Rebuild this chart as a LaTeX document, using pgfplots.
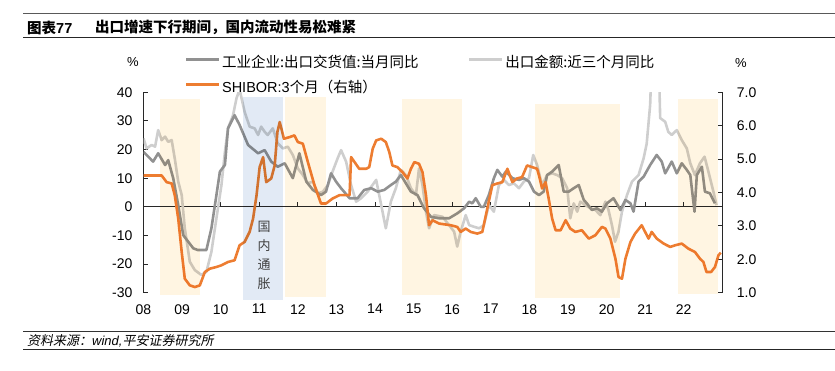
\documentclass[border=0pt]{standalone}
\usepackage{fontspec}
\setmainfont{Liberation Sans}
\newfontfamily\cjk{Noto Sans CJK SC}
\newfontfamily\cjkit{Noto Sans CJK SC}[FakeSlant=0.2]
\usepackage{pgfplots}
\usepackage{pgfplotstable}
\pgfplotsset{compat=1.18}
\definecolor{dgray}{RGB}{145,145,145}
\definecolor{lgray}{RGB}{206,206,206}
\definecolor{orng}{RGB}{237,125,49}
\definecolor{ybg}{RGB}{255,245,226}
\definecolor{bbg}{RGB}{226,234,245}
\definecolor{axc}{RGB}{40,40,40}

\pgfplotstableread{
x y
2008.00 19.2
2008.25 15.8
2008.38 18.7
2008.56 14.6
2008.64 16.3
2008.77 10.0
2008.90 0.6
2009.03 -9.9
2009.16 -12.2
2009.29 -14.5
2009.41 -15.1
2009.63 -15.1
2009.76 -7.5
2009.89 4.1
2009.98 12.3
2010.11 14.6
2010.19 27.4
2010.36 32.0
2010.49 28.6
2010.71 21.6
2010.97 18.7
2011.14 19.8
2011.31 15.8
2011.48 14.0
2011.66 15.2
2011.87 10.0
2012.04 18.7
2012.22 8.8
2012.39 5.9
2012.60 4.1
2012.73 5.3
2012.86 11.7
2012.99 8.8
2013.12 6.5
2013.34 3.0
2013.55 3.0
2013.72 5.9
2013.90 6.5
2014.07 5.3
2014.24 5.9
2014.41 7.6
2014.54 8.8
2014.67 11.1
2014.80 8.2
2014.93 5.3
2015.10 4.1
2015.27 -0.5
2015.45 -3.5
2015.66 -4.0
2015.92 -4.0
2016.13 -2.3
2016.31 -0.5
2016.44 1.8
2016.52 1.2
2016.61 3.0
2016.74 0.0
2016.82 0.0
2016.95 4.1
2017.08 10.0
2017.17 12.9
2017.30 10.5
2017.39 12.3
2017.56 10.0
2017.73 9.4
2017.86 10.0
2017.99 8.8
2018.12 5.3
2018.25 4.1
2018.37 5.3
2018.46 11.1
2018.59 12.3
2018.76 14.6
2018.89 5.3
2019.02 5.3
2019.15 6.5
2019.28 7.6
2019.41 2.4
2019.49 1.2
2019.62 -1.1
2019.75 -0.5
2019.88 -1.7
2020.01 1.2
2020.18 3.0
2020.36 -1.1
2020.49 2.4
2020.62 1.2
2020.70 -1.7
2020.83 8.8
2020.96 10.5
2021.13 14.6
2021.30 18.1
2021.43 15.8
2021.52 11.7
2021.69 15.8
2021.82 11.7
2021.95 15.2
2022.08 12.9
2022.17 11.1
2022.28 -1.7
2022.34 11.1
2022.47 14.0
2022.55 5.3
2022.68 4.7
2022.81 1.2
}\tabA

\pgfplotstableread{
x y
2008.00 23.9
2008.08 20.4
2008.21 21.6
2008.30 21.0
2008.38 26.8
2008.47 23.3
2008.56 24.5
2008.64 22.7
2008.73 23.3
2008.81 16.9
2008.90 8.8
2008.99 4.1
2009.07 -7.5
2009.20 -19.2
2009.33 -22.1
2009.50 -23.8
2009.63 -22.7
2009.76 -15.7
2009.89 -4.0
2010.02 7.6
2010.11 19.2
2010.19 27.4
2010.32 32.0
2010.41 37.9
2010.49 41.0
2010.62 33.2
2010.75 28.0
2010.88 27.4
2010.97 25.1
2011.05 28.0
2011.14 26.2
2011.22 25.1
2011.35 27.4
2011.48 22.2
2011.61 20.4
2011.74 21.0
2011.87 18.1
2012.00 13.4
2012.13 11.1
2012.26 8.2
2012.39 8.8
2012.52 4.7
2012.65 5.3
2012.78 7.6
2012.90 12.3
2013.03 16.9
2013.12 19.8
2013.25 15.8
2013.38 7.6
2013.51 1.8
2013.64 3.0
2013.81 5.3
2014.03 9.4
2014.16 0.6
2014.28 -7.5
2014.41 1.8
2014.54 6.5
2014.67 12.9
2014.80 11.1
2014.93 6.5
2015.06 4.1
2015.14 13.4
2015.23 7.6
2015.32 -1.7
2015.40 -7.5
2015.53 -2.9
2015.75 -3.5
2015.92 -6.4
2016.05 -8.7
2016.13 -13.9
2016.22 -8.7
2016.35 -2.9
2016.44 -6.4
2016.57 -7.0
2016.70 -7.5
2016.82 -6.4
2016.95 0.6
2017.08 -1.7
2017.21 7.6
2017.34 9.4
2017.47 7.6
2017.60 8.2
2017.73 6.5
2017.86 8.8
2017.99 10.0
2018.10 18.1
2018.20 14.6
2018.33 7.6
2018.46 11.1
2018.59 11.7
2018.72 11.1
2018.85 10.0
2018.98 6.5
2019.06 -4.0
2019.15 1.2
2019.24 -1.7
2019.32 1.8
2019.45 0.6
2019.58 -0.5
2019.71 -1.1
2019.84 -2.9
2019.97 1.8
2020.05 -1.1
2020.14 -6.4
2020.22 -12.2
2020.31 -8.7
2020.40 -1.7
2020.53 4.1
2020.66 8.8
2020.83 11.1
2020.96 16.9
2021.04 22.0
2021.13 35.6
2021.22 70.0
2021.32 70.0
2021.39 31.0
2021.52 29.7
2021.60 26.2
2021.69 25.1
2021.82 26.8
2021.95 23.3
2022.08 20.4
2022.17 15.2
2022.29 11.1
2022.42 15.2
2022.54 17.5
2022.64 12.3
2022.77 5.3
2022.85 0.6
}\tabB

\pgfplotstableread{
x y
2008.00 4.51
2008.47 4.51
2008.60 4.31
2008.73 4.27
2008.81 3.92
2008.90 3.22
2008.99 2.22
2009.07 1.42
2009.20 1.22
2009.33 1.17
2009.46 1.22
2009.59 1.62
2009.72 1.72
2009.89 1.77
2010.02 1.82
2010.19 1.92
2010.36 1.97
2010.49 2.42
2010.62 2.52
2010.75 2.82
2010.84 3.22
2010.93 3.92
2011.01 4.76
2011.10 5.06
2011.18 4.31
2011.31 4.42
2011.40 4.81
2011.47 5.81
2011.53 6.11
2011.64 5.61
2011.79 5.66
2011.91 5.71
2012.00 5.51
2012.13 5.46
2012.26 4.91
2012.43 4.22
2012.60 3.67
2012.73 3.67
2012.90 3.82
2013.08 3.92
2013.34 3.92
2013.38 5.06
2013.47 4.91
2013.59 4.71
2013.77 4.71
2013.85 4.76
2013.94 5.31
2014.03 5.56
2014.16 5.61
2014.28 5.51
2014.37 5.21
2014.45 4.81
2014.58 4.76
2014.71 4.61
2014.84 4.42
2014.93 4.71
2015.02 4.91
2015.14 4.86
2015.23 4.61
2015.32 3.92
2015.40 3.02
2015.49 3.17
2015.66 3.07
2015.96 3.02
2016.13 2.97
2016.22 2.82
2016.35 2.92
2016.48 2.82
2016.65 2.77
2016.78 2.82
2016.91 3.52
2017.04 4.22
2017.17 4.27
2017.30 4.31
2017.43 4.71
2017.56 4.31
2017.68 4.42
2017.81 4.46
2017.94 4.81
2018.07 4.76
2018.20 4.71
2018.25 4.51
2018.33 4.12
2018.42 4.31
2018.50 3.82
2018.59 3.22
2018.68 2.87
2018.81 2.87
2018.94 3.17
2019.06 2.92
2019.19 2.82
2019.36 2.87
2019.54 2.62
2019.71 2.72
2019.88 2.97
2019.97 2.92
2020.10 2.62
2020.23 2.02
2020.31 1.47
2020.40 1.42
2020.49 2.02
2020.62 2.52
2020.74 2.77
2020.83 2.90
2020.91 3.02
2021.00 2.82
2021.09 2.62
2021.17 2.82
2021.30 2.62
2021.48 2.47
2021.65 2.37
2021.78 2.42
2021.95 2.47
2022.12 2.32
2022.29 2.22
2022.42 2.02
2022.51 1.92
2022.59 1.62
2022.71 1.62
2022.81 1.77
2022.90 2.12
2022.96 2.20
}\tabC

\begin{document}
\begin{tikzpicture}[x=1pt,y=1pt]
% frame lines, title, source
\draw[line width=0.8pt, color=black!65] (23,356.5) -- (835,356.5);
\draw[line width=1.2pt, color=black!85] (23,332.5) -- (835,332.5);
\draw[line width=1pt, color=black!80] (23,39) -- (835,39);
\draw[line width=1pt, color=black!85] (23,20.7) -- (835,20.7);
\node[anchor=west, inner sep=0pt, font=\fontsize{14.5}{17}\selectfont\bfseries] at (27,342.5) {{\cjk 图表}77};
\node[anchor=west, inner sep=0pt, font=\fontsize{14.5}{17}\selectfont\bfseries] at (95,342.5) {\cjk 出口增速下行期间，国内流动性易松难紧};
\node[anchor=west, inner sep=0pt, font=\fontsize{13}{15}\selectfont] at (27,29.2) {{\cjkit 资料来源：}{\itshape wind,}{\cjkit 平安证券研究所}};
\node[inner sep=0pt, font=\fontsize{13}{15}\selectfont] at (133,308) {\%};
\node[inner sep=0pt, font=\fontsize{13}{15}\selectfont] at (741,307) {\%};

% left axis: export series
\begin{axis}[
  at={(143.5pt,77.3pt)}, anchor=south west,
  scale only axis, width=578.8pt, height=200.4pt,
  xmin=2008, xmax=2023, ymin=-30, ymax=40,
  axis y line*=left, axis x line*=bottom,
  x axis line style={draw=none},
  y axis line style={axc, line width=0.9pt, -},
  xtick={2008,2009,2010,2011,2012,2013,2014,2015,2016,2017,2018,2019,2020,2021,2022},
  xticklabels={08,09,10,11,12,13,14,15,16,17,18,19,20,21,22},
  x tick style={draw=none},
  ytick={-30,-20,-10,0,10,20,30,40},
  y tick style={axc, line width=0.9pt},
  tick align=inside, major tick length=4.5pt,
  ticklabel style={font=\fontsize{14}{14}\selectfont, text=black},
  yticklabel style={xshift=-7.5pt},
  xticklabel style={yshift=-8pt},
  /pgf/number format/assume math mode=true,
]
\draw[axc, line width=0.9pt] (axis cs:2008,0) -- (axis cs:2023,0);
\pgfplotsinvokeforeach{2009,2010,2011,2012,2013,2014,2015,2016,2017,2018,2019,2020,2021,2022}{
  \draw[axc, line width=0.9pt] (axis cs:#1,0) -- ++(0pt,4.5pt);
}
\addplot[lgray, line width=2.6pt, no marks, line join=round] table {\tabB};
\addplot[dgray, line width=2.6pt, no marks, line join=round] table {\tabA};
\end{axis}

% right axis: SHIBOR
\begin{axis}[
  at={(143.5pt,77.3pt)}, anchor=south west,
  scale only axis, width=578.8pt, height=200.4pt,
  xmin=2008, xmax=2023, ymin=1, ymax=7,
  axis y line*=right, axis x line=none,
  y axis line style={axc, line width=0.9pt, -},
  ytick={1,2,3,4,5,6,7},
  y tick style={axc, line width=0.9pt},
  tick align=inside, major tick length=4.5pt,
  yticklabel style={font=\fontsize{14}{14}\selectfont, text=black, xshift=11pt,
    /pgf/number format/.cd, fixed, fixed zerofill, precision=1},
  /pgf/number format/assume math mode=true,
  legend columns=2,
  legend cell align=left,
  legend style={at={(0.0717,1.187)}, anchor=north west, draw=none, fill=none,
    inner sep=0pt, outer sep=0pt, row sep=8pt,
    font=\fontsize{14.5}{14.5}\selectfont,
    nodes={inner sep=1.5pt, text height=11pt, text depth=3pt},
    /tikz/every even column/.append style={column sep=48pt}},
  legend image code/.code={\draw[#1] (0pt,4pt) -- (33pt,4pt);},
]
\addlegendimage{dgray, line width=2.6pt}
\addlegendentry{\cjk 工业企业:出口交货值:当月同比}
\addlegendimage{lgray, line width=2.6pt}
\addlegendentry{\cjk 出口金额:近三个月同比}
\addplot[orng, line width=2.6pt, no marks, line join=round] table {\tabC};
\addlegendentry{SHIBOR:3{\cjk 个月（右轴）}}
\end{axis}

% shaded periods
\begin{axis}[
  at={(143.5pt,77.3pt)}, anchor=south west,
  scale only axis, width=578.8pt, height=200.4pt,
  xmin=2008, xmax=2023, ymin=-30, ymax=40,
  hide axis, clip=false,
]
\addplot[draw=none, fill=ybg, blend mode=multiply] coordinates {(2008.43,-30.8) (2009.46,-30.8) (2009.46,37.7) (2008.43,37.7)};
\addplot[draw=none, fill=bbg, blend mode=multiply] coordinates {(2010.59,-32.4) (2011.61,-32.4) (2011.61,38.5) (2010.59,38.5)};
\addplot[draw=none, fill=ybg, blend mode=multiply] coordinates {(2011.67,-31.4) (2012.74,-31.4) (2012.74,38.3) (2011.67,38.3)};
\addplot[draw=none, fill=ybg, blend mode=multiply] coordinates {(2014.71,-30.8) (2016.25,-30.8) (2016.25,37.7) (2014.71,37.7)};
\addplot[draw=none, fill=ybg, blend mode=multiply] coordinates {(2018.14,-31.9) (2020.34,-31.9) (2020.34,35.9) (2018.14,35.9)};
\addplot[draw=none, fill=ybg, blend mode=multiply] coordinates {(2021.86,-30.5) (2022.90,-30.5) (2022.90,37.7) (2021.86,37.7)};
\end{axis}

\node[inner sep=0pt, font=\fontsize{13}{13}\selectfont, text=black!75] at (264,143.3) {\cjk 国};
\node[inner sep=0pt, font=\fontsize{13}{13}\selectfont, text=black!75] at (264,124.2) {\cjk 内};
\node[inner sep=0pt, font=\fontsize{13}{13}\selectfont, text=black!75] at (264,105.0) {\cjk 通};
\node[inner sep=0pt, font=\fontsize{13}{13}\selectfont, text=black!75] at (264,86.2) {\cjk 胀};

\pgfresetboundingbox
\useasboundingbox (0,0) rectangle (835,370);
\end{tikzpicture}
\end{document}
